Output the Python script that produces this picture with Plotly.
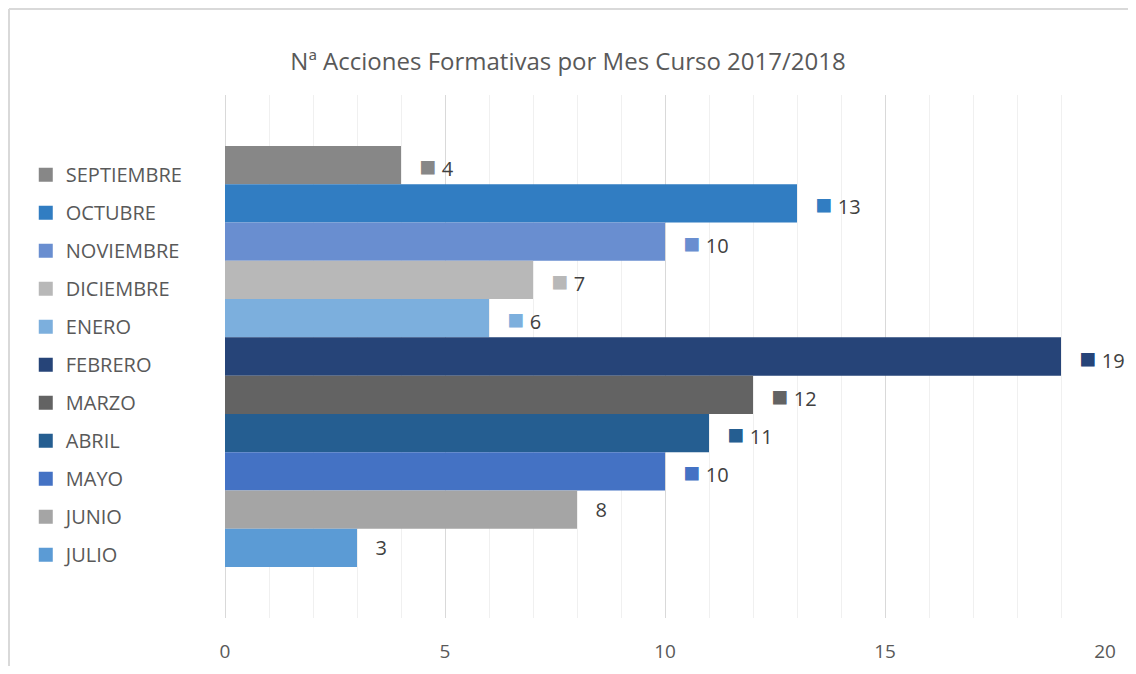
import plotly.graph_objects as go

months = ["SEPTIEMBRE", "OCTUBRE", "NOVIEMBRE", "DICIEMBRE", "ENERO", "FEBRERO",
          "MARZO", "ABRIL", "MAYO", "JUNIO", "JULIO"]
values = [4, 13, 10, 7, 6, 19, 12, 11, 10, 8, 3]
colors = ["#878787", "#317dc2", "#698ed0", "#b8b8b8", "#7cafdd", "#264478",
          "#636363", "#255e91", "#4472c4", "#a5a5a5", "#5b9bd5"]
# data labels that show the legend key (Excel style); JUNIO/JULIO show only the value
label_key = [True, True, True, True, True, True, True, True, True, False, False]
category = ["Curso 2017/2018"]
x_ticks = [0, 5, 10, 15, 20]

NB = "\u00a0"
FONT = "Open Sans"

W, H = 1128, 658
L, T = 217, 87
PW, PH = 880, 523

fig = go.Figure()
for m, v, c, k in zip(months, values, colors, label_key):
    if k:
        txt = (NB * 3 + f'<span style="color:{c};font-size:28px">■</span>'
               + NB + f"{v}")
    else:
        txt = NB * 3 + f"{v}"
    fig.add_trace(go.Bar(
        name=m, x=[v], y=category, orientation="h",
        marker=dict(color=c, line=dict(width=0)),
        text=[txt], textposition="outside", cliponaxis=False,
        constraintext="none",
        textfont=dict(family=FONT, size=20, color="#404040"),
        legendgroup=m, showlegend=False, hoverinfo="x+name",
    ))
# legend entries with larger square keys
for m, c in zip(months, colors):
    fig.add_trace(go.Scatter(
        name=m, x=[None], y=[None], mode="markers",
        marker=dict(symbol="square", size=14, color=c),
        legendgroup=m, showlegend=True, hoverinfo="skip",
    ))

fig.update_layout(
    width=W, height=H,
    margin=dict(l=L, r=W - L - PW, t=T, b=H - T - PH, autoexpand=False),
    paper_bgcolor="white", plot_bgcolor="white",
    barmode="group", bargap=0.195, bargroupgap=0,
    title=dict(text="Nª Acciones Formativas por Mes Curso 2017/2018",
               x=(568 - 8) / W, xanchor="center", xref="container",
               y=1 - 54 / H, yanchor="middle",
               font=dict(family=FONT, size=24, color="#595959")),
    showlegend=True,
    legend=dict(x=-0.2264, xanchor="left", y=0.885, yanchor="top",
                font=dict(family=FONT, size=20, color="#595959"),
                tracegroupgap=9, bgcolor="rgba(0,0,0,0)", itemsizing="trace"),
    xaxis=dict(range=[0, 20], tickvals=x_ticks, showgrid=True, gridcolor="#d9d9d9",
               gridwidth=1, zeroline=True, zerolinecolor="#d9d9d9", zerolinewidth=1,
               showline=False, ticks="", ticklen=0, ticklabelstandoff=20,
               automargin=False,
               tickfont=dict(family=FONT, size=19, color="#595959"),
               minor=dict(dtick=1, showgrid=True, gridcolor="#f0f0f0", gridwidth=1)),
    yaxis=dict(autorange="reversed", showticklabels=False, showgrid=False,
               zeroline=False, showline=False, ticks="", automargin=False),
    font=dict(family=FONT),
)

# thin outer chart border (top and left edges visible in the reference)
top_y = (T + PH - 1) / PH
left_x = (1 - L) / PW
fig.add_shape(type="line", xref="paper", yref="paper",
              x0=left_x, x1=(W - L) / PW, y0=top_y, y1=top_y,
              line=dict(color="#d9d9d9", width=2))
fig.add_shape(type="line", xref="paper", yref="paper",
              x0=left_x, x1=left_x, y0=top_y, y1=(T + PH - H) / PH,
              line=dict(color="#d9d9d9", width=2))

fig.write_html("out.html")
